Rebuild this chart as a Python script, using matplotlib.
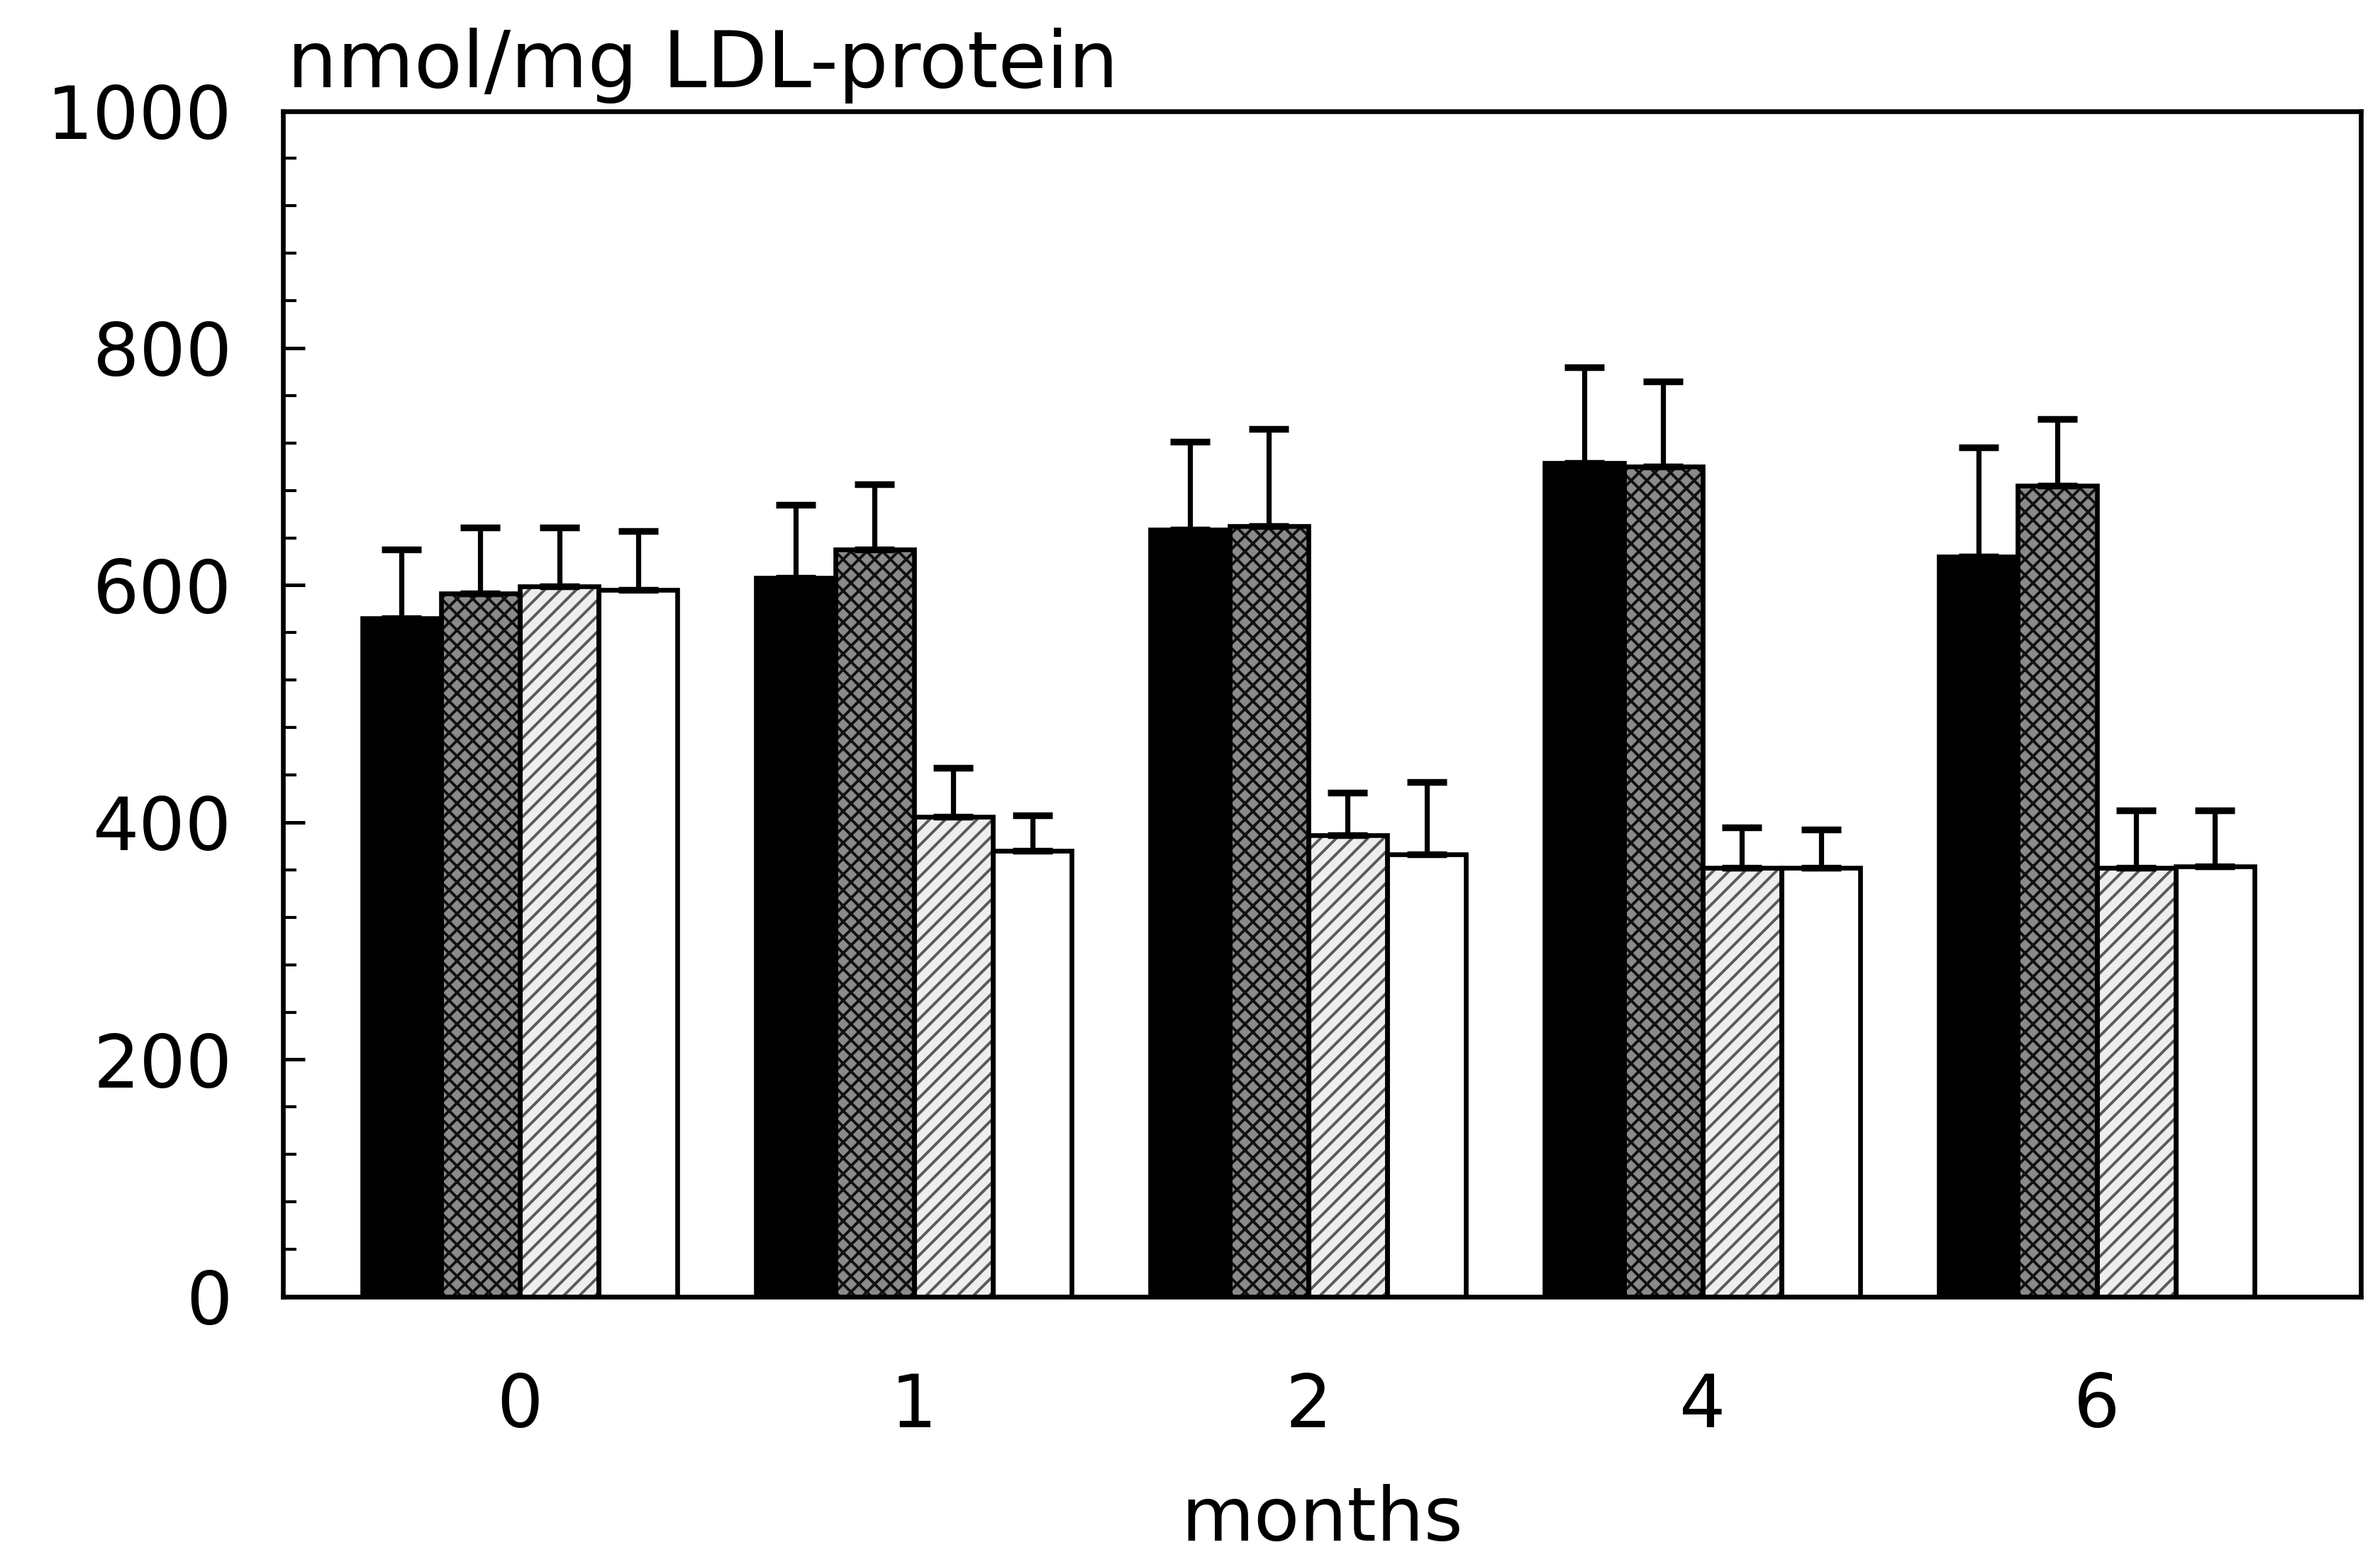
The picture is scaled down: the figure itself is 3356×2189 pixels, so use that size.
import matplotlib
matplotlib.use('Agg')
import matplotlib.pyplot as plt
from matplotlib.ticker import MultipleLocator, AutoMinorLocator
import numpy as np

# values (nmol/mg LDL-protein), upper SD only
months = ['0', '1', '2', '4', '6']
black = [572, 606, 647, 703, 624]
black_sd = [58, 62, 74, 81, 92]
gray = [593, 630, 650, 700, 684]
gray_sd = [56, 55, 82, 72, 56]
dotted = [599, 405, 389, 362, 362]
dotted_sd = [50, 41, 36, 34, 48]
white = [596, 376, 373, 362, 363]
white_sd = [50, 30, 61, 32, 47]

y_label = 'nmol/mg LDL-protein'
x_label = 'months'

plt.rcParams['font.family'] = ['DejaVu Sans']
plt.rcParams['hatch.linewidth'] = 1.4

fig = plt.figure(figsize=(16.78, 10.945), dpi=200)
ax = fig.add_axes([0.119, 0.1645, 0.873, 0.764])

x = np.arange(len(months))
width = 0.2

# (values, sd, face, hatch, hatch colour)
series = [
    (black, black_sd, 'black', None, 'black'),
    (gray, gray_sd, '#8a8a8a', 'xxx', '#111111'),
    (dotted, dotted_sd, '#eeeeee', '///', '#5a5a5a'),
    (white, white_sd, 'white', None, 'white'),
]

for i, (vals, sd, face, hatch, hcol) in enumerate(series):
    xs = x + (i - 1.5) * width
    # fill + texture
    ax.bar(xs, vals, width, color=face, edgecolor=hcol, linewidth=0,
           hatch=hatch, zorder=2)
    # outline
    ax.bar(xs, vals, width, fill=False, edgecolor='black', linewidth=2.4,
           zorder=3)
    ax.errorbar(xs, vals, yerr=[np.zeros(len(vals)), sd], fmt='none',
                ecolor='black', elinewidth=2.6, capsize=10, capthick=3.4,
                zorder=4)

ax.set_xlim(-0.6, 4.67)
ax.set_ylim(0, 1000)
ax.set_xticks(x)
ax.set_xticklabels(months)
ax.yaxis.set_major_locator(MultipleLocator(200))
ax.yaxis.set_minor_locator(AutoMinorLocator(5))

ax.tick_params(axis='x', length=0, pad=38, labelsize=37)
ax.tick_params(axis='y', which='major', direction='in', length=11,
               width=1.8, pad=26, labelsize=37)
ax.tick_params(axis='y', which='minor', direction='in', length=7, width=1.5)

for s in ax.spines.values():
    s.set_linewidth(2.4)

ax.set_xlabel(x_label, fontsize=38)
ax.xaxis.set_label_coords(0.5, -0.158)
ax.text(0.002, 1.006, y_label, transform=ax.transAxes, ha='left',
        va='bottom', fontsize=40)

fig.savefig('out.png', dpi=200, facecolor='white')
